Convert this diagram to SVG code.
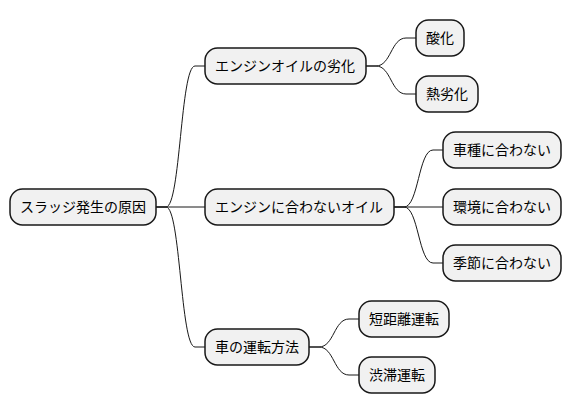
<svg xmlns="http://www.w3.org/2000/svg" width="572" height="415" viewBox="0 0 572 415">
<style>
.n rect{fill:#F1F1F1;stroke:#181818;stroke-width:1.5}
.n text{font-family:"Noto Sans CJK JP","Noto Sans",sans-serif;font-size:14px;fill:#000}
.c path{fill:none;stroke:#181818;stroke-width:1}
</style>
<rect width="572" height="415" fill="#FFFFFF"/>
<g class="c" id="connectors">
<path d="M156,207 L166,207 C180.5,207 180.5,66 195,66 L205,66"/>
<path d="M156,207 L166,207 L205,207"/>
<path d="M156,207 L166,207 C180.5,207 180.5,347 195,347 L205,347"/>
<path d="M366,66 L376,66 C391,66 391,38 406,38 L416,38"/>
<path d="M366,66 L376,66 C391,66 391,94 406,94 L416,94"/>
<path d="M394,207 L404,207 C418.5,207 418.5,150 433,150 L443,150"/>
<path d="M394,207 L404,207 L443,207"/>
<path d="M394,207 L404,207 C418.5,207 418.5,263 433,263 L443,263"/>
<path d="M309,347 L319,347 C334,347 334,319 349,319 L359,319"/>
<path d="M309,347 L319,347 C334,347 334,375 349,375 L359,375"/>
</g>
<g class="n" id="root"><rect x="10" y="189" width="146" height="36" rx="12.5"/><text x="20" y="212">スラッジ発生の原因</text></g>
<g class="n" id="n1"><rect x="205" y="48" width="161" height="36" rx="12.5"/><text x="215" y="71">エンジンオイルの劣化</text></g>
<g class="n" id="n1a"><rect x="416" y="20" width="48" height="36" rx="12.5"/><text x="426" y="43">酸化</text></g>
<g class="n" id="n1b"><rect x="416" y="76" width="62" height="36" rx="12.5"/><text x="426" y="99">熱劣化</text></g>
<g class="n" id="n2"><rect x="205" y="189" width="189" height="36" rx="12.5"/><text x="215" y="212">エンジンに合わないオイル</text></g>
<g class="n" id="n2a"><rect x="443" y="132" width="118" height="36" rx="12.5"/><text x="453" y="155">車種に合わない</text></g>
<g class="n" id="n2b"><rect x="443" y="189" width="118" height="36" rx="12.5"/><text x="453" y="212">環境に合わない</text></g>
<g class="n" id="n2c"><rect x="443" y="245" width="118" height="36" rx="12.5"/><text x="453" y="268">季節に合わない</text></g>
<g class="n" id="n3"><rect x="205" y="329" width="104" height="36" rx="12.5"/><text x="215" y="352">車の運転方法</text></g>
<g class="n" id="n3a"><rect x="359" y="301" width="90" height="36" rx="12.5"/><text x="369" y="324">短距離運転</text></g>
<g class="n" id="n3b"><rect x="359" y="357" width="76" height="36" rx="12.5"/><text x="369" y="380">渋滞運転</text></g>
</svg>
